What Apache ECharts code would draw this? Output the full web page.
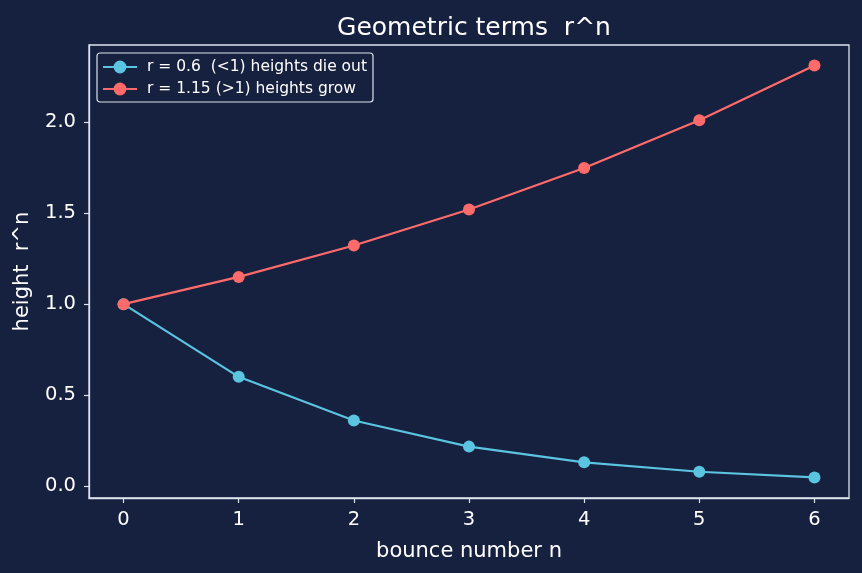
<!DOCTYPE html>
<html><head><meta charset="utf-8">
<script src="https://cdn.jsdelivr.net/npm/echarts@6/dist/echarts.min.js"></script>
<style>html,body{margin:0;padding:0;background:#16203f;}#c{width:862px;height:573px;}</style>
</head><body><div id="c"></div>
<script>
const bounces = [0, 1, 2, 3, 4, 5, 6];
const shrinkHeights = [1, 0.6, 0.36, 0.216, 0.1296, 0.0778, 0.0467];
const growHeights = [1, 1.15, 1.3225, 1.5209, 1.749, 2.0114, 2.3131];
const xTicks = [0, 1, 2, 3, 4, 5, 6];
const yTicks = [0, 0.5, 1.0, 1.5, 2.0];
const seriesNames = ['r = 0.6  (<1) heights die out', 'r = 1.15 (>1) heights grow'];

const fg = '#dde3ee';
const font = 'DejaVu Sans';
const chart = echarts.init(document.getElementById('c'));
chart.setOption({
  backgroundColor: '#16203f',
  animation: false,
  title: { text: 'Geometric terms  r^n', left: 469, top: 11, textAlign: 'center',
    textStyle: { color: '#ffffff', fontFamily: font, fontSize: 25, fontWeight: 'normal' } },
  legend: {
    orient: 'vertical', left: 97, top: 53, padding: [6, 6, 5, 5], itemGap: 6,
    itemWidth: 34, itemHeight: 16,
    borderColor: fg, borderWidth: 1.2, borderRadius: 3, backgroundColor: '#16203f',
    textStyle: { color: '#ffffff', fontFamily: font, fontSize: 15.5, padding: [0, 0, 0, 5] },
    data: seriesNames
  },
  grid: { left: 89, right: 13, top: 45, bottom: 75, show: true, borderColor: fg, borderWidth: 1.3, backgroundColor: 'transparent' },
  xAxis: {
    type: 'value', min: -0.3, max: 6.3,
    name: 'bounce number n', nameLocation: 'middle', nameGap: 43,
    nameTextStyle: { color: '#ffffff', fontFamily: font, fontSize: 21 },
    axisLine: { show: true, onZero: false, lineStyle: { color: fg, width: 1.3 } },
    axisTick: { show: true, length: 5, customValues: xTicks, lineStyle: { color: fg, width: 1.2 } },
    axisLabel: { color: '#ffffff', fontFamily: font, fontSize: 19.5, margin: 12, customValues: xTicks, formatter: v => String(v) },
    splitLine: { show: false }
  },
  yAxis: {
    type: 'value', min: -0.0667, max: 2.426,
    name: 'height  r^n', nameLocation: 'middle', nameGap: 56, nameRotate: 90,
    nameTextStyle: { color: '#ffffff', fontFamily: font, fontSize: 21 },
    axisLine: { show: true, onZero: false, lineStyle: { color: fg, width: 1.3 } },
    axisTick: { show: true, length: 5, customValues: yTicks, lineStyle: { color: fg, width: 1.2 } },
    axisLabel: { color: '#ffffff', fontFamily: font, fontSize: 19.5, margin: 13, customValues: yTicks, formatter: v => v.toFixed(1) },
    splitLine: { show: false }
  },
  series: [
    { name: seriesNames[0], type: 'line', data: bounces.map((b, i) => [b, shrinkHeights[i]]),
      symbol: 'circle', symbolSize: 12, color: '#5bc4e0', lineStyle: { width: 2.2 }, itemStyle: { color: '#5bc4e0' } },
    { name: seriesNames[1], type: 'line', data: bounces.map((b, i) => [b, growHeights[i]]),
      symbol: 'circle', symbolSize: 12, color: '#ff6b6b', lineStyle: { width: 2.2 }, itemStyle: { color: '#ff6b6b' } }
  ]
});
</script></body></html>
